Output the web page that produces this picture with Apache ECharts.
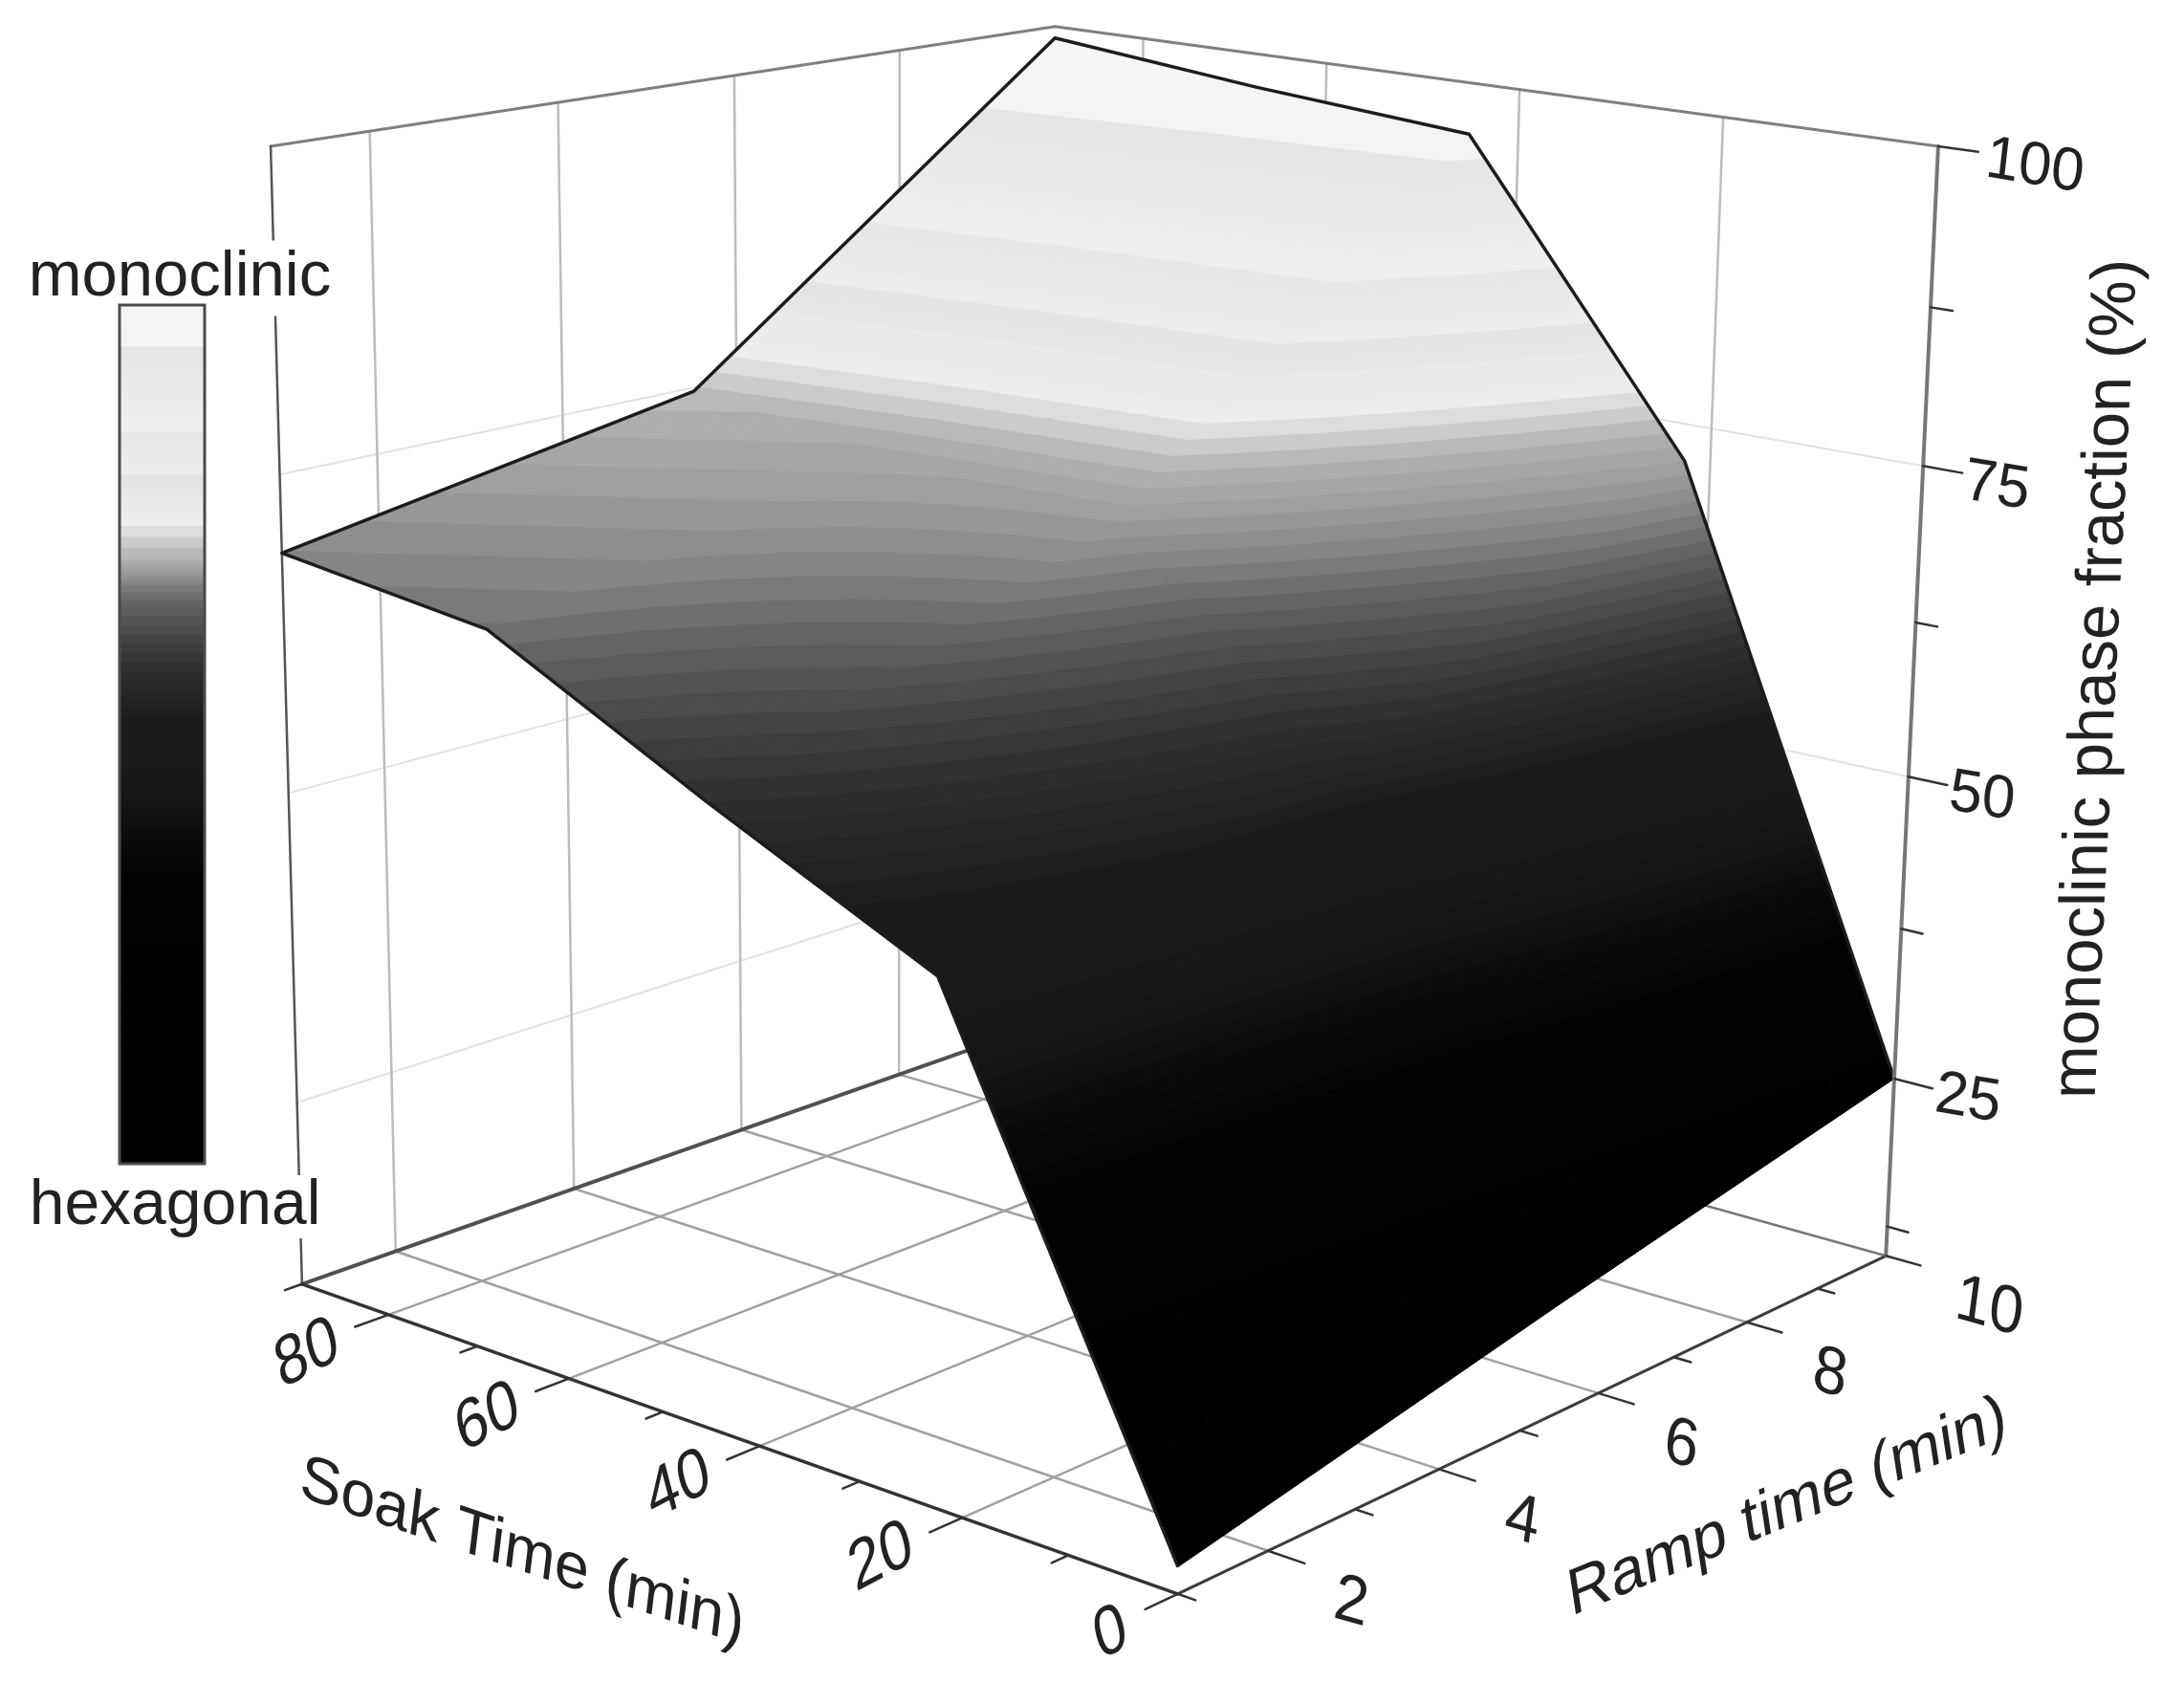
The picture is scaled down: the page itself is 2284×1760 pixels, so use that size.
<!DOCTYPE html>
<html>
<head>
<meta charset="utf-8">
<style>
  html, body { margin: 0; background: #fff; }
  #chart { width: 2284px; height: 1760px; }
</style>
<script src="https://cdn.jsdelivr.net/npm/echarts@6/dist/echarts.min.js"></script>
</head>
<body>
<div id="chart"></div>
<script>
// measured data: phase fraction per soak time (rows) and ramp time (columns)
const soakTimes = [0, 22.5, 45, 67.5, 90]
const rampTimes = [1, 5.5, 10]
const fraction0 = [12, 18.7, 25]
const fraction22 = [49.7, 55, 72]
const fraction45 = [58, 71, 95.8]
const fraction67 = [66.8, 72.5, 97.2]
const fraction90 = [68.9, 74.7, 99]
const fractionRows = [fraction0, fraction22, fraction45, fraction67, fraction90]

// axes
const soakRange = [0, 90]
const rampRange = [1, 10]
const fractionRange = [10, 100]
const soakMajor = [0, 20, 40, 60, 80]
const soakMinor = [10, 30, 50, 70, 90]
const rampMajor = [2, 4, 6, 8, 10]
const rampMinor = [1, 3, 5, 7, 9]
const fractionMajor = [25, 50, 75, 100]
const fractionMinor = [12.5, 37.5, 62.5, 87.5]

// grey ramp of the colour scale: value, grey level, place on the strip (0 top, 1 bottom)
const stopFraction = [0, 35.5, 39.7, 43.5, 47.6, 52.4, 58, 61.3, 65.1, 68, 71, 74, 77, 77.1, 81.6, 81.7, 86, 86.1, 94, 94.1, 98, 101]
const stopGrey = [0, 2, 10, 20, 26, 26, 46, 66, 96, 128, 156, 176, 230, 238, 228, 238, 230, 240, 228, 244, 245, 245]
const stopStrip = [1, 0.665, 0.62, 0.58, 0.536, 0.485, 0.425, 0.39, 0.35, 0.325, 0.31, 0.295, 0.256, 0.255, 0.2, 0.199, 0.146, 0.145, 0.047, 0.046, 0, 0]

// perspective camera, maps the unit box of the three axes to the page (in 1000 px)
const camera = [-0.87136, 1.07457, -0.05388, 1.2316, -0.13542, -0.13108, -1.36566, 1.66678, 0.14042, 0.16932, -0.05814]

const linearMap = echarts.number.linearMap

function project(soak, ramp, value) {
  const s = linearMap(soak, soakRange, [0, 1])
  const r = linearMap(ramp, rampRange, [0, 1])
  const z = linearMap(value, fractionRange, [0, 1])
  const c = camera
  const w = c[8] * s + c[9] * r + c[10] * z + 1
  return [
    (1000 * (c[0] * s + c[1] * r + c[2] * z + c[3])) / w,
    (1000 * (c[4] * s + c[5] * r + c[6] * z + c[7])) / w,
  ]
}

function stopAt(value, stops) {
  let i = 0
  while (i < stopFraction.length - 2 && value > stopFraction[i + 1]) i++
  return linearMap(value, [stopFraction[i], stopFraction[i + 1]], [stops[i], stops[i + 1]], true)
}

function bandGrey(value) {
  const v = Math.round(stopAt(value, stopGrey))
  return 'rgb(' + v + ',' + v + ',' + v + ')'
}

// ---- frame lines: [soak0, ramp0, z0, soak1, ramp1, z1, styleIndex]
const lineStyles = [
  { stroke: '#e2e2e2', lineWidth: 2 }, // wall level lines
  { stroke: '#bcbcbc', lineWidth: 2.5 }, // wall uprights
  { stroke: '#a0a0a0', lineWidth: 2.5 }, // floor grid
  { stroke: '#808080', lineWidth: 3 }, // top edges
  { stroke: '#555555', lineWidth: 2.5 }, // left upright
  { stroke: '#505050', lineWidth: 4 }, // back floor edge
  { stroke: '#777777', lineWidth: 2.5 }, // right floor edge
  { stroke: '#333333', lineWidth: 3.5 }, // soak axis
  { stroke: '#3c3c3c', lineWidth: 3 }, // ramp axis
  { stroke: '#777777', lineWidth: 4 }, // fraction axis
  { stroke: '#333333', lineWidth: 2.5 }, // ticks
]
const [sLo, sHi] = soakRange
const [rLo, rHi] = rampRange
const [zLo, zHi] = fractionRange

const backLines = []
fractionMajor.slice(0, 3).forEach((z) => {
  backLines.push([sHi, rLo, z, sHi, rHi, z, 0], [sHi, rHi, z, sLo, rHi, z, 0])
})
rampMajor.slice(0, 4).forEach((r) => {
  backLines.push([sHi, r, zLo, sHi, r, zHi, 1], [sLo, r, zLo, sHi, r, zLo, 2])
})
soakMajor.slice(1).forEach((s) => {
  backLines.push([s, rHi, zLo, s, rHi, zHi, 1], [s, rLo, zLo, s, rHi, zLo, 2])
})
backLines.push(
  [sHi, rLo, zHi, sHi, rHi, zHi, 3],
  [sHi, rHi, zHi, sLo, rHi, zHi, 3],
  [sHi, rLo, zLo, sHi, rHi, zLo, 5],
  [sLo, rHi, zLo, sHi, rHi, zLo, 6],
  [sHi, rLo, zLo, sHi, rLo, zHi, 4],
)

const frontLines = []
frontLines.push(
  [sLo, rLo, zLo, sHi, rLo, zLo, 7],
  [sLo, rLo, zLo, sLo, rHi, zLo, 8],
  [sLo, rHi, zLo, sLo, rHi, zHi, 9],
)
soakMajor.forEach((s) => frontLines.push([s, rLo, zLo, s, rLo - 0.35, zLo, 10]))
soakMinor.forEach((s) => frontLines.push([s, rLo, zLo, s, rLo - 0.18, zLo, 10]))
rampMajor.forEach((r) => frontLines.push([sLo, r, zLo, sLo - 3.3, r, zLo, 10]))
rampMinor.forEach((r) => frontLines.push([sLo, r, zLo, sLo - 1.6, r, zLo, 10]))
fractionMajor.forEach((z) => frontLines.push([sLo, rHi, z, sLo - 3.6, rHi, z, 10]))
fractionMinor.forEach((z) => frontLines.push([sLo, rHi, z, sLo - 2, rHi, z, 10]))

function renderLine(params, api) {
  const a = project(api.value(0), api.value(1), api.value(2))
  const b = project(api.value(3), api.value(4), api.value(5))
  return {
    type: 'line',
    shape: { x1: a[0], y1: a[1], x2: b[0], y2: b[1] },
    style: Object.assign({ lineCap: 'round' }, lineStyles[api.value(6)]),
  }
}

// ---- surface: every grid cell is cut into small triangles, each clipped into grey bands
const cellSteps = 6

function fractionAt(i, j, u, v) {
  const a = fractionRows[i][j]
  const b = fractionRows[i + 1][j]
  const c = fractionRows[i][j + 1]
  const d = fractionRows[i + 1][j + 1]
  return (a * (1 - u) + b * u) * (1 - v) + (c * (1 - u) + d * u) * v
}

function clipBelow(poly, limit, keepAbove) {
  const out = []
  poly.forEach((p, k) => {
    const q = poly[(k + 1) % poly.length]
    const pIn = keepAbove ? p[2] >= limit : p[2] <= limit
    const qIn = keepAbove ? q[2] >= limit : q[2] <= limit
    if (pIn) out.push(p)
    if (pIn !== qIn) {
      const t = (limit - p[2]) / (q[2] - p[2])
      out.push([p[0] + (q[0] - p[0]) * t, p[1] + (q[1] - p[1]) * t, limit])
    }
  })
  return out
}

function trianglePieces(tri, children) {
  const zs = tri.map((p) => p[2])
  const lo = Math.floor(Math.min(...zs))
  const hi = Math.ceil(Math.max(...zs))
  for (let level = lo; level < hi; level++) {
    let poly = clipBelow(tri, level, true)
    if (poly.length) poly = clipBelow(poly, level + 1, false)
    if (poly.length < 3) continue
    const fill = bandGrey(level + 0.5)
    children.push({
      type: 'polygon',
      shape: { points: poly.map((p) => project(p[0], p[1], p[2])) },
      style: { fill, stroke: fill, lineWidth: 1 },
    })
  }
}

function renderCell(params, api) {
  const i = api.value(0)
  const j = api.value(1)
  const children = []
  const node = (a, b) => {
    const u = a / cellSteps
    const v = b / cellSteps
    return [
      soakTimes[i] + (soakTimes[i + 1] - soakTimes[i]) * u,
      rampTimes[j] + (rampTimes[j + 1] - rampTimes[j]) * v,
      fractionAt(i, j, u, v),
    ]
  }
  for (let a = cellSteps - 1; a >= 0; a--) {
    for (let b = cellSteps - 1; b >= 0; b--) {
      const p00 = node(a, b)
      const p10 = node(a + 1, b)
      const p01 = node(a, b + 1)
      const p11 = node(a + 1, b + 1)
      trianglePieces([p00, p10, p11], children)
      trianglePieces([p00, p11, p01], children)
    }
  }
  return { type: 'group', children }
}

// back cells first
const cellData = []
for (let i = soakTimes.length - 2; i >= 0; i--) {
  for (let j = rampTimes.length - 2; j >= 0; j--) cellData.push([i, j])
}

function renderOutline() {
  const pts = []
  const last = rampTimes.length - 1
  soakTimes.forEach((s, i) => pts.push(project(s, rampTimes[0], fractionRows[i][0])))
  rampTimes.slice(1).forEach((r, j) => pts.push(project(soakTimes[4], r, fractionRows[4][j + 1])))
  for (let i = soakTimes.length - 2; i >= 0; i--) pts.push(project(soakTimes[i], rampTimes[last], fractionRows[i][last]))
  return {
    type: 'polyline',
    shape: { points: pts },
    style: { fill: 'none', stroke: '#1c1c1c', lineWidth: 3.5, lineJoin: 'round' },
  }
}

// ---- colour scale strip
const stripBox = { left: 125, right: 214, top: 319, bottom: 1217 }
const stripLevels = []
for (let z = 0; z < 98; z++) stripLevels.push(z)

function renderStrip(params, api) {
  const z = api.value(0)
  const place = (v) => linearMap(stopAt(v, stopStrip), [0, 1], [stripBox.top, stripBox.bottom])
  const y0 = place(z + 1)
  const y1 = place(z)
  return {
    type: 'rect',
    shape: { x: stripBox.left, y: y0, width: stripBox.right - stripBox.left, height: y1 - y0 + 1 },
    style: { fill: bandGrey(z + 0.5) },
  }
}

// ---- texts: a text with its own baseline direction u and upright direction v
function slantedText(text, x, y, u, v, fontSize, extra) {
  const a = u[0]
  const b = -v[0]
  const c = u[1]
  const d = -v[1]
  const e = (a + d) / 2
  const f = (a - d) / 2
  const g = (c + b) / 2
  const h = (c - b) / 2
  const q = Math.hypot(e, h)
  const r = Math.hypot(f, g)
  const a1 = Math.atan2(g, f)
  const a2 = Math.atan2(h, e)
  return {
    type: 'group',
    x,
    y,
    rotation: -(a2 + a1) / 2,
    scaleX: q + r,
    scaleY: q - r,
    children: [
      {
        type: 'text',
        rotation: -(a2 - a1) / 2,
        style: Object.assign(
          {
            text,
            x: 0,
            y: 0,
            fill: '#222222',
            font: fontSize + 'px "Liberation Sans", Arial, sans-serif',
            align: 'center',
            verticalAlign: 'middle',
          },
          extra,
        ),
      },
    ],
  }
}

function renderTexts() {
  const children = []
  soakMajor.forEach((s) => {
    const t = String(s)
    const p = project(s, rLo, zLo)
    children.push(slantedText(t, p[0] - 85 + (2 - t.length) * 15, p[1] + 42, [0.95, -0.5], [-0.3, -1.15], 60))
  })
  rampMajor.forEach((r) => {
    const t = String(r)
    const p = project(sLo, r, zLo)
    children.push(slantedText(t, p[0] + 87 + (t.length - 1) * 21, p[1] + 55, [1.05, 0.3], [0.15, -1.15], 60))
  })
  fractionMajor.forEach((z) => {
    const t = String(z)
    const p = project(sLo, rHi, z)
    children.push(slantedText(t, p[0] + 77 + (t.length - 2) * 24, p[1] + 22, [1.02, 0.17], [0.12, -1.05], 60))
  })
  children.push(
    slantedText('Soak Time (min)', 546, 1624, [0.948, 0.318], [0.12, -0.99], 67),
    slantedText('Ramp time (min)', 1869, 1577, [0.924, -0.383], [-0.15, -0.99], 67),
    slantedText('monoclinic phase fraction (%)', 2194, 710, [0.05, -0.999], [-1, 0], 67),
    slantedText('monoclinic', 188, 291, [1, 0], [0, -1], 67, { backgroundColor: '#fff', padding: [4, 0, 8, 0] }),
    slantedText('hexagonal', 183, 1262, [1, 0], [0, -1], 66, { backgroundColor: '#fff' }),
  )
  return { type: 'group', children }
}

const chart = echarts.init(document.getElementById('chart'), null, { renderer: 'canvas' })
chart.setOption({
  backgroundColor: '#ffffff',
  animation: false,
  series: [
    { type: 'custom', coordinateSystem: 'none', silent: true, z: 1, data: backLines, renderItem: renderLine },
    { type: 'custom', coordinateSystem: 'none', silent: true, z: 2, data: cellData, renderItem: renderCell },
    { type: 'custom', coordinateSystem: 'none', silent: true, z: 3, data: [[0]], renderItem: renderOutline },
    { type: 'custom', coordinateSystem: 'none', silent: true, z: 4, data: frontLines, renderItem: renderLine },
    { type: 'custom', coordinateSystem: 'none', silent: true, z: 5, data: [[0]], renderItem: renderTexts },
    {
      type: 'custom',
      coordinateSystem: 'none',
      silent: true,
      z: 6,
      data: stripLevels.map((z) => [z]),
      renderItem: renderStrip,
    },
    {
      type: 'custom',
      coordinateSystem: 'none',
      silent: true,
      z: 7,
      data: [[0]],
      renderItem: () => ({
        type: 'rect',
        shape: {
          x: stripBox.left,
          y: stripBox.top,
          width: stripBox.right - stripBox.left,
          height: stripBox.bottom - stripBox.top,
        },
        style: { fill: 'none', stroke: '#4a4a4a', lineWidth: 3 },
      }),
    },
  ],
})
</script>
</body>
</html>
